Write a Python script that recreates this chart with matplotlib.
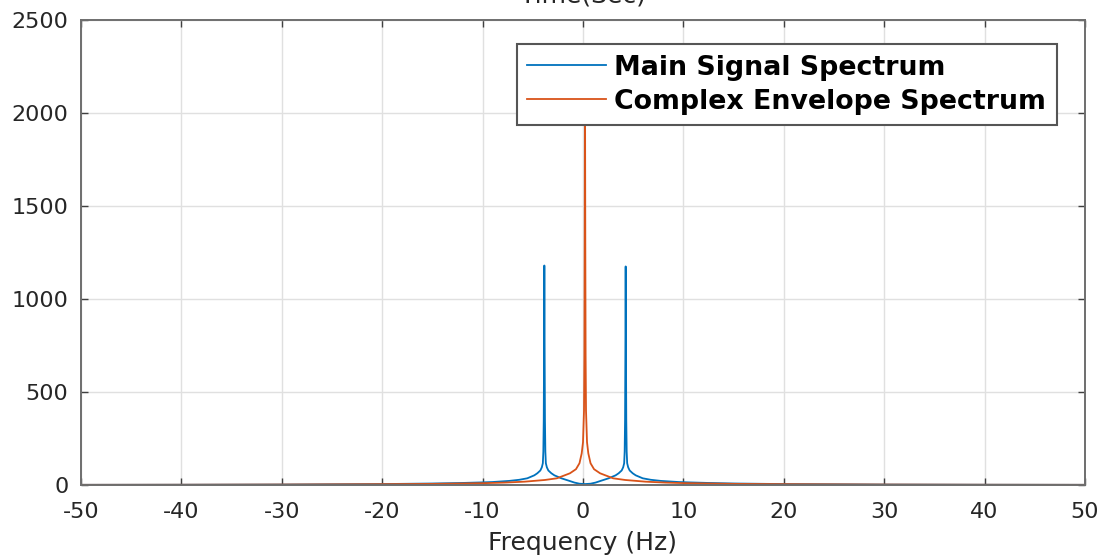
import matplotlib
matplotlib.use("Agg")
import matplotlib.pyplot as plt

plt.rcParams['font.family'] = ['DejaVu Sans']
plt.rcParams['axes.unicode_minus'] = False

# Main signal spectrum
main_freq = [-50, -40, -30, -20, -15, -12, -10, -9, -7.35, -6.35, -5.55, -4.85, -4.55,
             -4.25, -4.1, -4.0, -3.95, -3.91, -3.88, -3.85, -3.82, -3.79, -3.75, -3.7,
             -3.6, -3.45, -3.15, -2.85, -2.15, -1.35, -0.85, -0.35, 0.2, 0.75, 1.25,
             1.75, 2.55, 3.25, 3.55, 3.85, 4.0, 4.1, 4.15, 4.19, 4.22, 4.25, 4.28, 4.31,
             4.35, 4.4, 4.5, 4.65, 4.95, 5.25, 5.95, 6.75, 7.75, 9.5, 10.5, 12.5, 15,
             20, 30, 40, 50]
main_mag = [1, 1.5, 2.5, 5, 8, 11, 14, 16, 22, 28, 36, 52, 63,
            78, 95, 117, 180, 350, 700, 1180, 700, 350, 180, 117,
            95, 78, 63, 52, 36, 22, 13, 7, 5, 7, 13,
            22, 36, 52, 63, 78, 95, 117, 180, 350, 700, 1175, 700, 350,
            180, 117, 95, 78, 63, 52, 36, 28, 22, 16, 14, 11, 8,
            5, 2.5, 1.5, 1]

# Complex envelope spectrum (tip hidden behind the legend)
env_freq = [-50, -40, -30, -20, -15, -9.8, -7.8, -5.8, -3.8, -2.6, -1.3, -0.7, -0.35,
            -0.13, 0.0, 0.1, 0.14, 0.17, 0.2, 0.23, 0.26, 0.3, 0.4, 0.53, 0.75, 1.1,
            1.7, 3.0, 4.2, 6.2, 8.2, 10.2, 15.2, 20, 30, 40, 50]
env_mag = [1, 1.5, 2.5, 4.5, 6, 10, 13, 18, 27, 36, 63, 85, 117,
           170, 230, 400, 700, 1300, 2200, 1300, 700, 400, 230, 170, 117, 85,
           63, 36, 27, 18, 13, 10, 6, 4.5, 2.5, 1.5, 1]

labels = ['Main Signal Spectrum', 'Complex Envelope Spectrum']
xticks = list(range(-50, 51, 10))
yticks = [0, 500, 1000, 1500, 2000, 2500]

W, H = 1104, 557
fig = plt.figure(figsize=(W / 100, H / 100), dpi=100)
L, R, T, B = 81, 1085, 20, 485
ax = fig.add_axes([L / W, (H - B) / H, (R - L) / W, (B - T) / H])

ax.plot(main_freq, main_mag, color='#0072BD', lw=1.3, label=labels[0], zorder=2)
ax.plot(env_freq, env_mag, color='#D95319', lw=1.3, label=labels[1], zorder=2)

ax.set_xlim(-50, 50)
ax.set_ylim(0, 2500)
ax.set_xticks(xticks)
ax.set_yticks(yticks)
ax.grid(True, color='#e0e0e0', lw=1.0)
ax.set_axisbelow(True)
for s in ax.spines.values():
    s.set_color('#6e6e6e')
    s.set_linewidth(1.4)
ax.tick_params(direction='in', top=True, right=True, length=5, width=1,
               color='#404040', labelsize=16, labelcolor='#262626')
ax.tick_params(axis='y', pad=9)
ax.tick_params(axis='x', pad=12)
ax.set_xlabel('Frequency (Hz)', fontsize=18, color='#262626', labelpad=7)

fig.text((L + R) / 2 / W, 1 - 2 / H, 'Time(Sec)', ha='center', va='baseline',
         fontsize=18, color='#262626')

leg = ax.legend(loc='upper right',
                bbox_to_anchor=((1057 - L) / (R - L), (B - 44) / (B - T)),
                borderaxespad=0, prop={'weight': 'bold', 'size': 19.3},
                handlelength=2.95, handletextpad=0.3, labelspacing=0.3,
                borderpad=0.4, fancybox=False, framealpha=1, edgecolor='#555555')
leg.get_frame().set_linewidth(1.5)
leg.set_zorder(10)

fig.savefig('out.png', dpi=100)
